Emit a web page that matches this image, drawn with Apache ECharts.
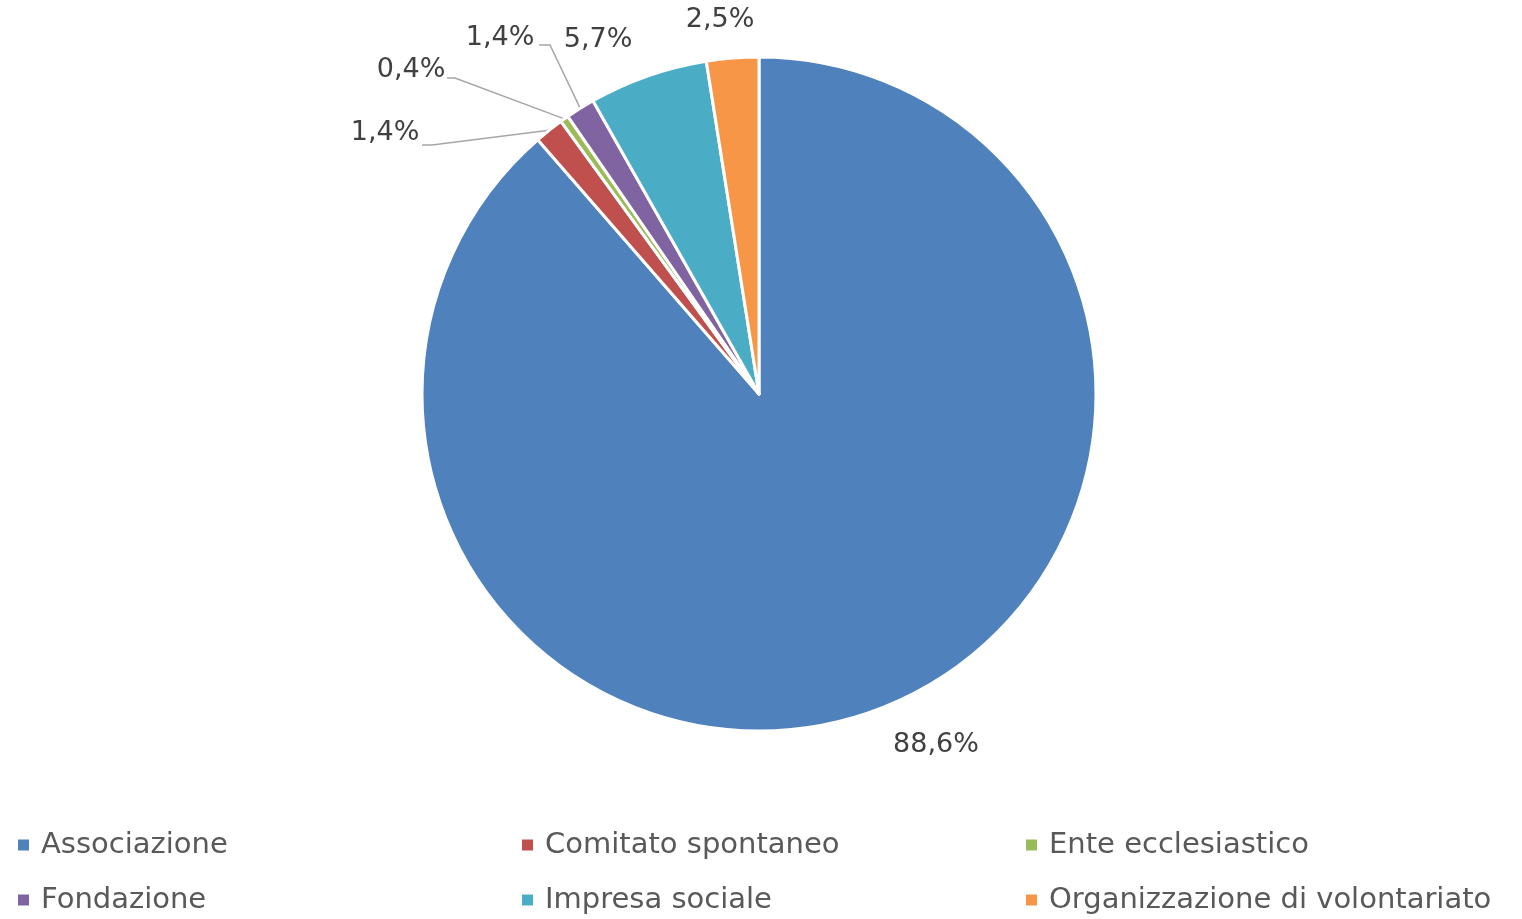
<!DOCTYPE html>
<html><head><meta charset="utf-8">
<script src="https://cdn.jsdelivr.net/npm/echarts@6/dist/echarts.min.js"></script>
<style>html,body{margin:0;padding:0;background:#fff}#c{width:1522px;height:919px}</style>
</head><body><div id="c"></div>
<script>
const categories = ['Associazione','Comitato spontaneo','Ente ecclesiastico','Fondazione','Impresa sociale','Organizzazione di volontariato'];
const values = [88.6, 1.4, 0.4, 1.4, 5.7, 2.5];
const colors = ['#4F81BD','#C0504D','#9BBB59','#8064A2','#4BACC6','#F79646'];
const legendColumns = [[0,3],[1,4],[2,5]];
const FONT = 'DejaVu Sans';
// label anchor placements (label centres) and leader-line bends
const labelPos = [[936,745],[385,133],[411,70],[500,38],[598,40],[720,20]];
const leaderBends = {1:[[432,145],[422,145]], 2:[[455,78],[447,78]], 3:[[550,45],[539,45]]};

const chart = echarts.init(document.getElementById('c'));
const data = categories.map((n,i)=>({name:n, value:values[i], itemStyle:{color:colors[i]},
  labelLine:{show: !!leaderBends[i]}}));
const legendX = [11, 515, 1019];
const legends = legendColumns.map((col,ci)=>({
  orient:'vertical', left:legendX[ci], top:823, height:300, width:500,
  itemWidth:13, itemHeight:13, itemGap:21, icon:'rect',
  textStyle:{fontFamily:FONT, fontSize:29, color:'#595959', lineHeight:34, padding:[0,0,0,6]},
  data:col.map(i=>categories[i])
}));
chart.setOption({
  animation:false,
  legend:legends,
  series:[{
    type:'pie', center:[759,394], radius:337, startAngle:90, clockwise:true,
    itemStyle:{borderColor:'#fff', borderWidth:3},
    label:{show:true, position:'outside', fontFamily:FONT, fontSize:27, color:'#404040',
      formatter:p=>p.value.toFixed(1).replace('.',',')+'%'},
    labelLine:{show:true, length:20, length2:10, lineStyle:{color:'#A6A6A6', width:1.5}},
    labelLayout:function(p){
      const i = p.dataIndex;
      const r = {x:labelPos[i][0], y:labelPos[i][1], align:'center', verticalAlign:'middle'};
      if (leaderBends[i] && p.labelLinePoints) {
        r.labelLinePoints = [p.labelLinePoints[0]].concat(leaderBends[i]);
      }
      return r;
    },
    data:data
  }]
});
</script></body></html>
